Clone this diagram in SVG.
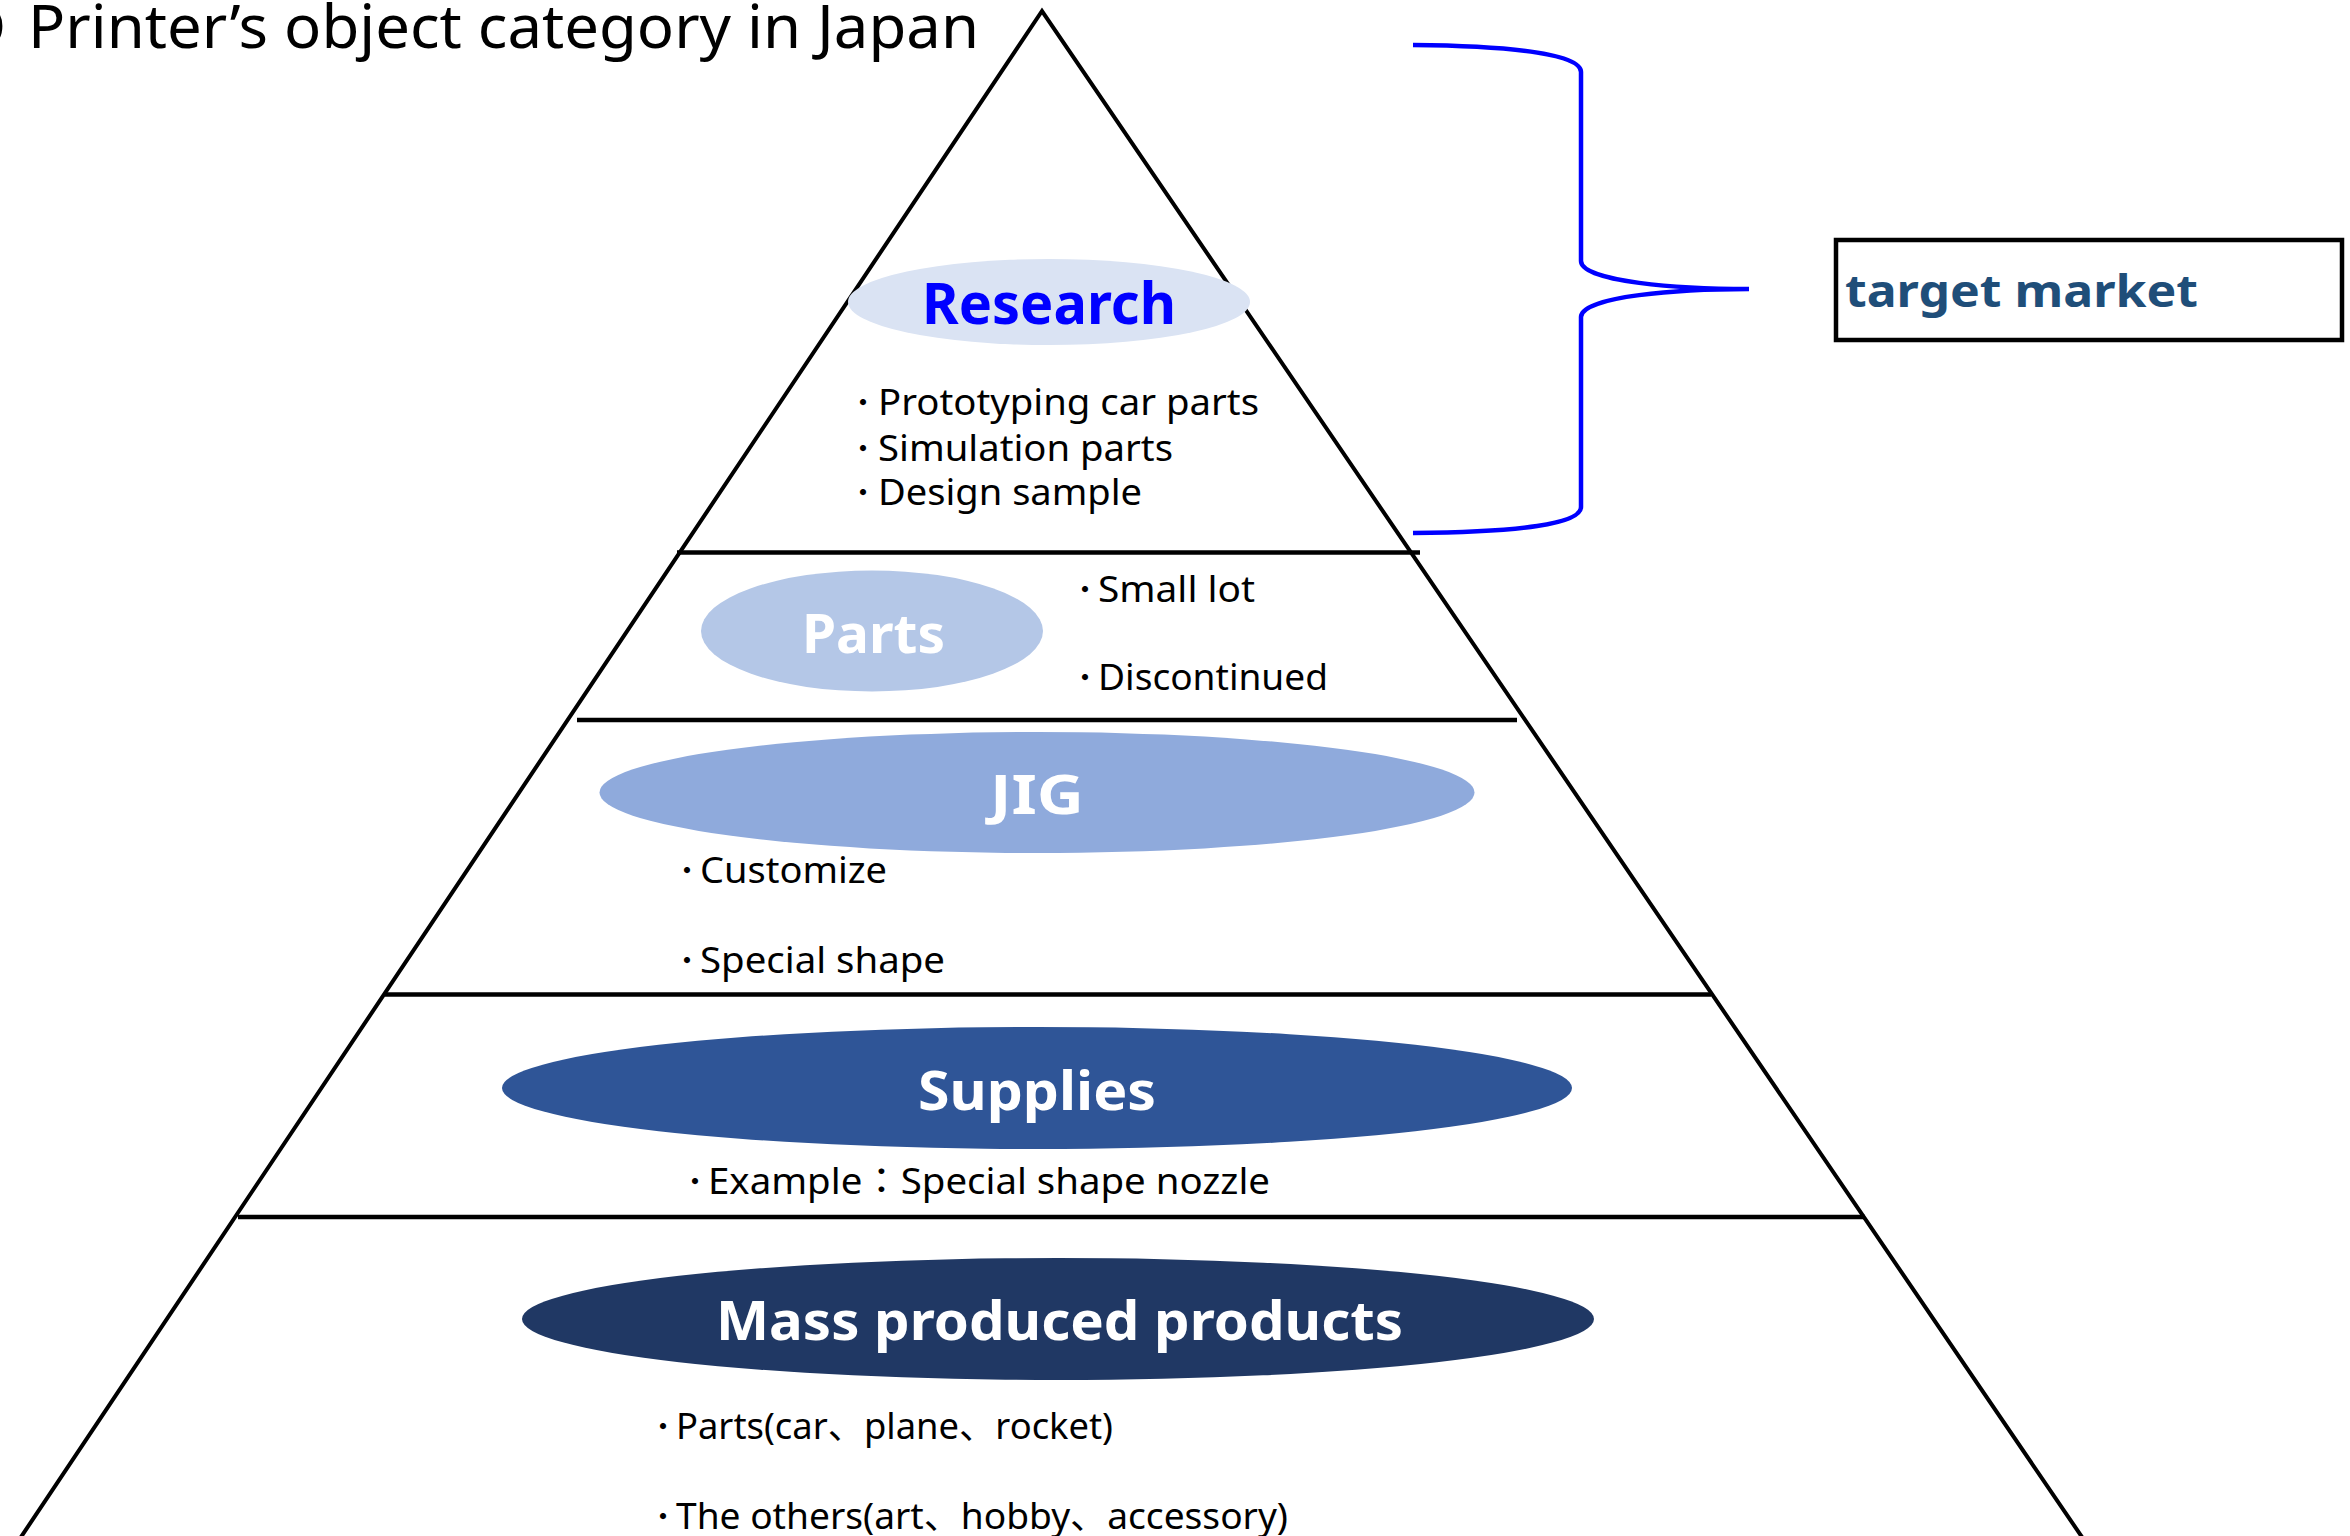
<svg xmlns="http://www.w3.org/2000/svg" width="2350" height="1536" viewBox="0 0 2350 1536">
<style>
  text { font-family: "Noto Sans", "Noto Sans CJK JP", sans-serif; }
  .lbl { font-weight: bold; fill: #FFFFFF; font-size: 54px; }
  .bul { font-size: 36px; fill: #000000; }
  .dot { font-size: 24px; font-weight: bold; }
  .edge { fill: none; stroke: #000000; stroke-width: 4; stroke-linecap: butt; }
  .sep { stroke: #000000; stroke-width: 4.5; }
  .brace { fill: none; stroke: #0000FF; stroke-width: 4.5; }
</style>
<rect x="0" y="0" width="2350" height="1536" fill="#FFFFFF"/>

<g id="title">
  <text font-size="60" fill="#000000"><tspan x="6" y="48" text-anchor="end">3D</tspan><tspan x="28" y="48" textLength="951" lengthAdjust="spacingAndGlyphs">Printer’s object category in Japan</tspan></text>
</g>

<g id="pyramid">
  <polyline class="edge" points="19,1540 1042,11 2084,1540"/>
  <line class="sep" x1="677" y1="552.5" x2="1420" y2="552.5"/>
  <line class="sep" x1="577" y1="720" x2="1517" y2="720"/>
  <line class="sep" x1="385" y1="994.5" x2="1711" y2="994.5"/>
  <line class="sep" x1="238" y1="1217" x2="1865" y2="1217"/>
</g>

<g id="research">
  <ellipse cx="1049" cy="302" rx="201" ry="43" fill="#DAE3F3"/>
  <text x="922" y="324" font-size="57" font-weight="bold" fill="#0000FF" textLength="254" lengthAdjust="spacingAndGlyphs">Research</text>
  <text class="bul" y="415"><tspan class="dot" x="851" dy="-4">・</tspan><tspan x="878" dy="4" textLength="381" lengthAdjust="spacingAndGlyphs">Prototyping car parts</tspan></text>
  <text class="bul" y="461"><tspan class="dot" x="851" dy="-4">・</tspan><tspan x="878" dy="4" textLength="295" lengthAdjust="spacingAndGlyphs">Simulation parts</tspan></text>
  <text class="bul" y="505"><tspan class="dot" x="851" dy="-4">・</tspan><tspan x="878" dy="4" textLength="264" lengthAdjust="spacingAndGlyphs">Design sample</tspan></text>
</g>

<g id="parts">
  <ellipse cx="872" cy="631" rx="171" ry="60.5" fill="#B4C7E7"/>
  <text class="lbl" x="802" y="653" textLength="143" lengthAdjust="spacingAndGlyphs">Parts</text>
  <text class="bul" y="602"><tspan class="dot" x="1073" dy="-4">・</tspan><tspan x="1098" dy="4" textLength="157" lengthAdjust="spacingAndGlyphs">Small lot</tspan></text>
  <text class="bul" y="690"><tspan class="dot" x="1073" dy="-4">・</tspan><tspan x="1098" dy="4" textLength="230" lengthAdjust="spacingAndGlyphs">Discontinued</tspan></text>
</g>

<g id="jig">
  <ellipse cx="1037" cy="792.5" rx="437.5" ry="60.5" fill="#8FAADC"/>
  <text class="lbl" x="990" y="814" textLength="94" lengthAdjust="spacingAndGlyphs">JIG</text>
  <text class="bul" y="883"><tspan class="dot" x="675" dy="-4">・</tspan><tspan x="700" dy="4" textLength="187" lengthAdjust="spacingAndGlyphs">Customize</tspan></text>
  <text class="bul" y="973"><tspan class="dot" x="675" dy="-4">・</tspan><tspan x="700" dy="4" textLength="245" lengthAdjust="spacingAndGlyphs">Special shape</tspan></text>
</g>

<g id="supplies">
  <ellipse cx="1037" cy="1088" rx="535" ry="61" fill="#2F5597"/>
  <text class="lbl" x="918" y="1110" textLength="238" lengthAdjust="spacingAndGlyphs">Supplies</text>
  <text class="bul" y="1194"><tspan class="dot" x="683" dy="-4">・</tspan><tspan x="708" dy="4" textLength="562" lengthAdjust="spacingAndGlyphs">Example：Special shape nozzle</tspan></text>
</g>

<g id="mass">
  <ellipse cx="1058" cy="1319" rx="536" ry="61" fill="#203864"/>
  <text class="lbl" x="716" y="1340" textLength="687" lengthAdjust="spacingAndGlyphs">Mass produced products</text>
  <text class="bul" y="1439"><tspan class="dot" x="651" dy="-4">・</tspan><tspan x="676" dy="4" textLength="437" lengthAdjust="spacingAndGlyphs">Parts(car、plane、rocket)</tspan></text>
  <text class="bul" y="1529"><tspan class="dot" x="651" dy="-4">・</tspan><tspan x="676" dy="4" textLength="612" lengthAdjust="spacingAndGlyphs">The others(art、hobby、accessory)</tspan></text>
</g>

<g id="target-market">
  <rect x="1836" y="240" width="506" height="100" fill="#FFFFFF" stroke="#000000" stroke-width="4.5"/>
  <text x="1845" y="307" font-size="44" font-weight="bold" fill="#1F4E79" textLength="353" lengthAdjust="spacingAndGlyphs">target market</text>
</g>

<g id="connectors">
  <path class="brace" d="M1413,45 C1520,46 1581,55 1581,72 L1581,261 C1581,282 1680,289 1749,289 C1680,289 1581,296 1581,317 L1581,507 C1581,524 1520,532 1413,533"/>
</g>
</svg>
